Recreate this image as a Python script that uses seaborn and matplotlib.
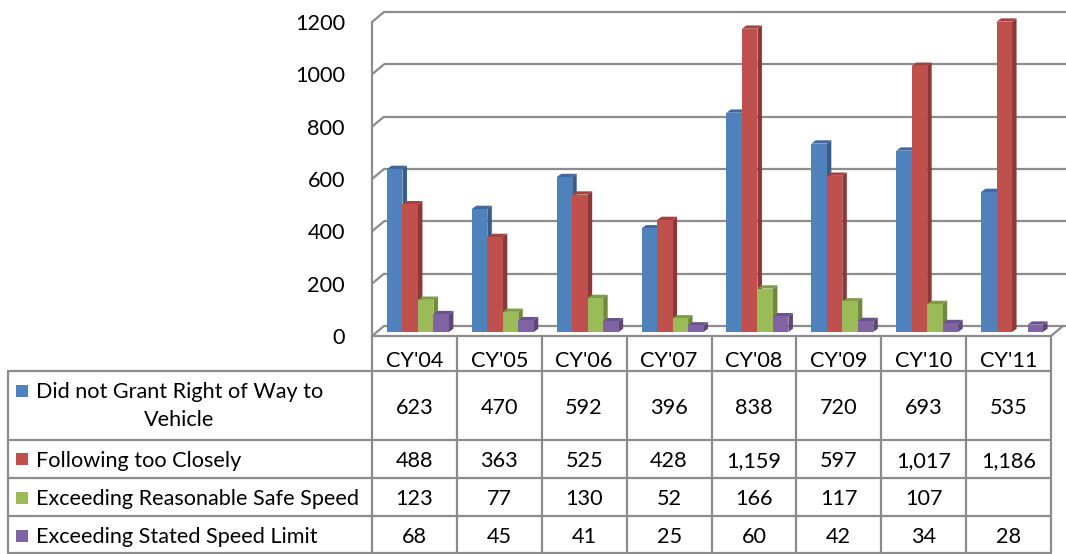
import numpy as np
import pandas as pd
import matplotlib
matplotlib.use("Agg")
import matplotlib.pyplot as plt
import seaborn as sns
from matplotlib.transforms import ScaledTranslation, blended_transform_factory
from matplotlib.patches import Polygon, Rectangle
from matplotlib.lines import Line2D

# ---------------- data ----------------
years = ["CY'04", "CY'05", "CY'06", "CY'07", "CY'08", "CY'09", "CY'10", "CY'11"]
series = ["Did not Grant Right of Way to Vehicle", "Following too Closely",
          "Exceeding Reasonable Safe Speed", "Exceeding Stated Speed Limit"]
series_labels = ["Did not Grant Right of Way to\nVehicle", "Following too Closely",
                 "Exceeding Reasonable Safe Speed", "Exceeding Stated Speed Limit"]
right_of_way = [623, 470, 592, 396, 838, 720, 693, 535]
following_close = [488, 363, 525, 428, 1159, 597, 1017, 1186]
reasonable_speed = [123, 77, 130, 52, 166, 117, 107, np.nan]
stated_limit = [68, 45, 41, 25, 60, 42, 34, 28]
y_ticks = [0, 200, 400, 600, 800, 1000, 1200]

values = [right_of_way, following_close, reasonable_speed, stated_limit]

# ---------------- styling ----------------
front_colors = ["#4F81BD", "#C0504D", "#9BBB59", "#8064A2"]
side_colors = ["#385D8A", "#8C3836", "#71893F", "#5C4776"]
top_colors = ["#3E6AA3", "#A8403D", "#7F9C47", "#6A5290"]
grid_col = "#8C8C8C"

sns.set_theme(style="white")
plt.rcParams["font.family"] = ["Lato", "DejaVu Sans"]
FS = 15.6

W, H = 1066, 554
fig = plt.figure(figsize=(W / 100, H / 100), dpi=100)

L, R = 372, 1051        # front plane x extent (px)
Y0, Y1 = 336, 22        # front plane y of 0 and 1200 (px from top)
ax = fig.add_axes([L / W, 1 - Y0 / H, (R - L) / W, (Y0 - Y1) / H])

df = pd.DataFrame({
    "year": np.tile(years, len(series)),
    "series": np.repeat(series, len(years)),
    "count": np.concatenate([np.asarray(v, dtype=float) for v in values]),
})
sns.barplot(data=df, x="year", y="count", hue="series", order=years, hue_order=series,
            palette=front_colors, width=0.73, saturation=1, errorbar=None,
            linewidth=0, legend=False, ax=ax)

ax.set_xlim(-0.5, len(years) - 0.5)
ax.set_ylim(0, 1200)
ax.set_yticks(y_ticks)
ax.set_yticklabels([str(t) for t in y_ticks], fontsize=FS, color="black")
ax.set_xticks([])
ax.set_xlabel("")
ax.set_ylabel("")
ax.tick_params(axis="y", length=0, pad=27 * 0.72)
for s in ["top", "right", "bottom"]:
    ax.spines[s].set_visible(False)
ax.spines["left"].set_color(grid_col)
ax.spines["left"].set_linewidth(1.6)
ax.spines["left"].set_zorder(2)
ax.patch.set_alpha(0)

kx = (R - L) / len(years)      # px per category unit
ky = (Y0 - Y1) / 1200.0        # px per value unit
fdx, fdy = 12 / kx, 10 / ky    # wall depth offset (data units)

xmin, xmax = -0.5, len(years) - 0.5
# floor + back wall gridlines
ax.add_patch(Polygon([(xmin, 0), (xmax, 0), (xmax + fdx, fdy), (xmin + fdx, fdy)],
                     closed=True, facecolor="white", edgecolor="none", zorder=0.5, clip_on=False))
for t in y_ticks:
    ax.plot([xmin + fdx, xmax + fdx + 0.05], [t + fdy, t + fdy], color=grid_col, lw=1.6,
            zorder=1, clip_on=False, solid_capstyle="butt")
    ax.plot([xmin, xmin + fdx], [t, t + fdy], color=grid_col, lw=1.6, zorder=1, clip_on=False)
ax.plot([xmax, xmax + fdx], [0, fdy], color=grid_col, lw=1.6, zorder=1, clip_on=False)

# 3D bars
front_tr = ax.transData + ScaledTranslation(3.5 / 100, 4 / 100, fig.dpi_scale_trans)
bdx, bdy = 4.5 / kx, 3.3 / ky
bars = []
for si, cont in enumerate(ax.containers):
    for p in cont:
        h = p.get_height()
        if not np.isfinite(h) or h <= 0:
            p.set_visible(False)
            continue
        bars.append((p.get_x(), si, p))
bars.sort(key=lambda b: b[0])
for k, (x0, si, p) in enumerate(bars):
    w, h = p.get_width(), p.get_height()
    z = 3 + k * 0.01
    p.set_transform(front_tr)
    p.set_zorder(z)
    p.set_clip_on(False)
    side = Polygon([(x0 + w, 0), (x0 + w + bdx, bdy), (x0 + w + bdx, h + bdy), (x0 + w, h)],
                   closed=True, facecolor=side_colors[si], edgecolor="none",
                   transform=front_tr, zorder=z - 0.001, clip_on=False)
    top = Polygon([(x0, h), (x0 + bdx, h + bdy), (x0 + w + bdx, h + bdy), (x0 + w, h)],
                  closed=True, facecolor=top_colors[si], edgecolor="none",
                  transform=front_tr, zorder=z - 0.001, clip_on=False)
    ax.add_patch(side)
    ax.add_patch(top)

# ---------------- data table ----------------
def fy(py):
    return 1 - py / H

def fx(px):
    return px / W

bt = blended_transform_factory(ax.transData, fig.transFigure)
row_bounds = [371, 440, 478, 516, 553]
table_left = 8
lw_t = 1.6

# horizontal lines
fig.add_artist(Line2D([fx(L), fx(R)], [fy(Y0), fy(Y0)], color=grid_col, lw=lw_t))
for yb in row_bounds:
    fig.add_artist(Line2D([fx(table_left), fx(R)], [fy(yb), fy(yb)], color=grid_col, lw=lw_t))
# vertical lines
for k in range(len(years) + 1):
    fig.add_artist(Line2D([xmin + k, xmin + k], [fy(Y0), fy(row_bounds[-1])],
                          color=grid_col, lw=lw_t, transform=bt))
fig.add_artist(Line2D([fx(table_left), fx(table_left)], [fy(row_bounds[0]), fy(row_bounds[-1])],
                      color=grid_col, lw=lw_t))

digit_half = 7.9
for i, yr in enumerate(years):
    fig.text(i, fy(359.5 + digit_half), yr, transform=bt, ha="center", va="baseline",
             fontsize=FS, color="black")

row_centers = [406.5, 459, 497.5, 535.5]
renderer = fig.canvas.get_renderer()
for si in range(len(series)):
    cy = row_centers[si]
    for i in range(len(years)):
        v = values[si][i]
        if np.isfinite(v):
            fig.text(i, fy(cy + digit_half), f"{int(v):,}", transform=bt, ha="center",
                     va="baseline", fontsize=FS, color="black")
    lines = series_labels[si].split("\n")
    if len(lines) == 1:
        fig.text(fx(36), fy(cy + digit_half), lines[0], ha="left", va="baseline",
                 fontsize=FS, color="black")
        sq_c = cy
    else:
        t1 = fig.text(fx(36), fy(390 + digit_half), lines[0], ha="left", va="baseline",
                      fontsize=FS, color="black")
        bb = t1.get_window_extent(renderer)
        cx = (bb.x0 + bb.x1) / 2 / W
        fig.text(cx, fy(418 + digit_half), lines[1], ha="center", va="baseline",
                 fontsize=FS, color="black")
        sq_c = 391
    fig.add_artist(Rectangle((fx(16), fy(sq_c + 6)), 12 / W, 12 / H, facecolor=front_colors[si],
                             edgecolor="none", transform=fig.transFigure))

fig.savefig("out.png", dpi=100, facecolor="white")
